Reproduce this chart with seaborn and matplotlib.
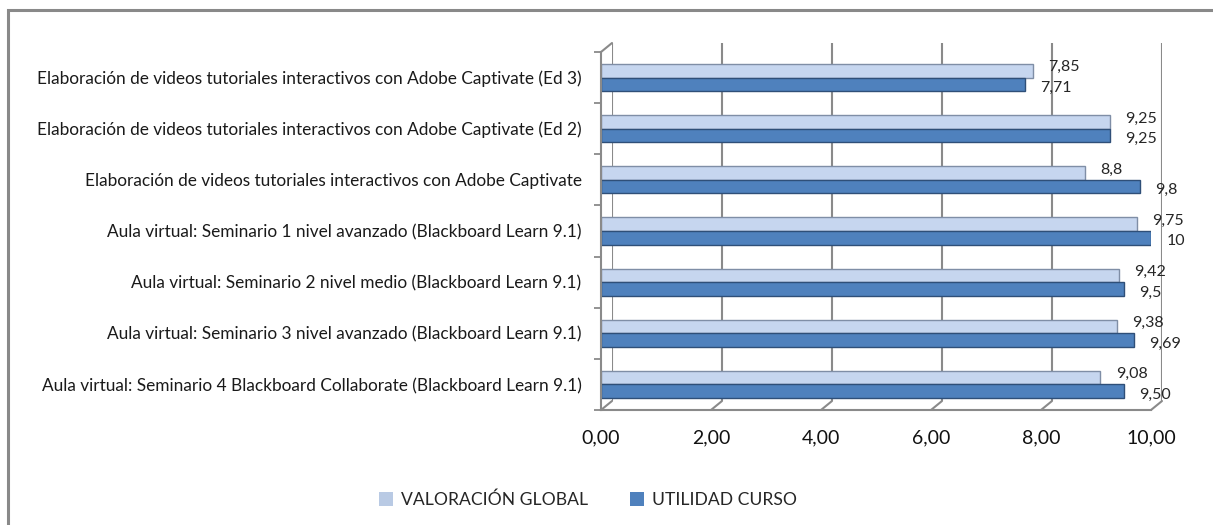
import seaborn as sns
import matplotlib.pyplot as plt
import pandas as pd
from matplotlib.patches import Rectangle, Patch
from matplotlib.lines import Line2D
from matplotlib.ticker import FuncFormatter

cursos = [
    'Elaboración de videos tutoriales interactivos con Adobe Captivate (Ed 3)',
    'Elaboración de videos tutoriales interactivos con Adobe Captivate (Ed 2)',
    'Elaboración de videos tutoriales interactivos con Adobe Captivate',
    'Aula virtual: Seminario 1 nivel avanzado (Blackboard Learn 9.1)',
    'Aula virtual: Seminario 2 nivel medio (Blackboard Learn 9.1)',
    'Aula virtual: Seminario 3 nivel avanzado (Blackboard Learn 9.1)',
    'Aula virtual: Seminario 4 Blackboard Collaborate (Blackboard Learn 9.1)',
]
valoracion_global = [7.85, 9.25, 8.8, 9.75, 9.42, 9.38, 9.08]
utilidad_curso = [7.71, 9.25, 9.8, 10, 9.5, 9.69, 9.50]
etiquetas_valoracion = ['7,85', '9,25', '8,8', '9,75', '9,42', '9,38', '9,08']
etiquetas_utilidad = ['7,71', '9,25', '9,8', '10', '9,5', '9,69', '9,50']
series = ['VALORACIÓN GLOBAL', 'UTILIDAD CURSO']
x_ticks = [0, 2, 4, 6, 8, 10]

df = pd.DataFrame({
    'curso': cursos * 2,
    'valor': valoracion_global + utilidad_curso,
    'serie': [series[0]] * len(cursos) + [series[1]] * len(cursos),
})

sns.set_style("white")
plt.rcParams['font.family'] = ['Lato', 'DejaVu Sans']

colors = {series[0]: '#C6D6EF', series[1]: '#4F81BD'}
edges = {series[0]: '#7F8EA6', series[1]: '#2F4F78'}
grey = '#8A8A8A'

W, H = 1213, 525
fig = plt.figure(figsize=(W / 100, H / 100), dpi=100)

# back wall (3D look): gridlines shifted up and to the right
ax_back = fig.add_axes([612 / W, 1 - 401 / H, 550 / W, 358 / H])
ax_back.set_xlim(0, 10)
ax_back.set_ylim(0, 1)
ax_back.set_xticks(x_ticks)
ax_back.set_yticks([])
ax_back.tick_params(axis='x', length=0, labelbottom=False)
ax_back.grid(axis='x', color=grey, linewidth=1.5)
for s in ax_back.spines.values():
    s.set_visible(False)

ax = fig.add_axes([601 / W, 1 - 410 / H, 550 / W, 358 / H])
ax.patch.set_alpha(0)

sns.barplot(data=df, y='curso', x='valor', hue='serie', palette=colors,
            orient='h', width=0.53, ax=ax, legend=False, saturation=1)

for container, serie in zip(ax.containers, series):
    for bar in container:
        bar.set_edgecolor(edges[serie])
        bar.set_linewidth(1.0)

for container, etiquetas, dy in zip(ax.containers, [etiquetas_valoracion, etiquetas_utilidad], [2.5, -2.5]):
    for ann in ax.bar_label(container, labels=etiquetas, padding=11, fontsize=11.5):
        ann.xyann = (11, dy)

ax.set_xlim(0, 10)
ax.set_xticks(x_ticks)
ax.xaxis.set_major_formatter(FuncFormatter(lambda v, p: f'{v:.2f}'.replace('.', ',')))
ax.set_ylim(len(cursos) - 0.5, -0.5)
ax.set_yticks(range(len(cursos)))
ax.set_yticks([i - 0.5 for i in range(len(cursos) + 1)], minor=True)
ax.tick_params(axis='y', which='major', length=0, pad=14, labelsize=12.4, labelcolor='#1A1A1A')
ax.tick_params(axis='y', which='minor', length=5, color=grey, width=1.3, left=True)
ax.tick_params(axis='x', length=0, pad=14, labelsize=14, labelcolor='#111111')
ax.set_xlabel('')
ax.set_ylabel('')
for side in ['top', 'right']:
    ax.spines[side].set_visible(False)
for side in ['left', 'bottom']:
    ax.spines[side].set_color(grey)
    ax.spines[side].set_linewidth(1.5)

# floor diagonals joining the front axis to the back wall
fig.canvas.draw()
to_fig = fig.transFigure.inverted()
for t in x_ticks:
    p0 = to_fig.transform(ax.transData.transform((t, len(cursos) - 0.5)))
    p1 = to_fig.transform(ax_back.transData.transform((t, 0)))
    fig.add_artist(Line2D([p0[0], p1[0]], [p0[1], p1[1]], color=grey, linewidth=1.5))
q0 = to_fig.transform(ax.transData.transform((0, -0.5)))
q1 = to_fig.transform(ax_back.transData.transform((0, 1)))
fig.add_artist(Line2D([q0[0], q1[0]], [q0[1], q1[1]], color=grey, linewidth=1.5))

handles = [Patch(facecolor='#B9CAE4', edgecolor='none', label=series[0]),
           Patch(facecolor='#4F81BD', edgecolor='none', label=series[1])]
fig.legend(handles=handles, loc='center', bbox_to_anchor=(588 / W, 1 - 500 / H),
           ncol=2, frameon=False, fontsize=12.6, handlelength=0.8, handleheight=0.8,
           handletextpad=0.45, columnspacing=2.4)

# chart frame (only top and left edges fall inside the picture)
fig.patches.append(Rectangle((8 / W, -10 / H), 1220 / W, 525 / H,
                             transform=fig.transFigure, fill=False,
                             edgecolor='#898989', linewidth=2.2))

fig.savefig('out.png', dpi=100)
